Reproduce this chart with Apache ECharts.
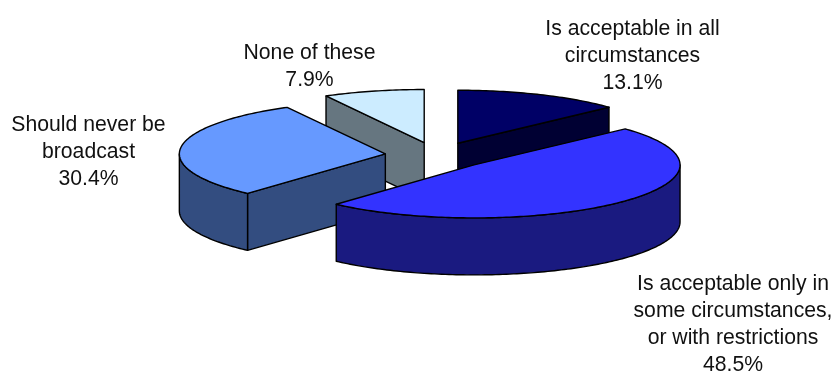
<!DOCTYPE html>
<html>
<head>
<meta charset="utf-8">
<style>html,body{margin:0;padding:0;background:#fff}#chart{width:832px;height:372px}</style>
<script src="https://cdn.jsdelivr.net/npm/echarts@6/dist/echarts.min.js"></script>
</head>
<body>
<div id="chart"></div>
<script>
// Opinion shares, clockwise from twelve o'clock.
const categories = [
  'Is acceptable in all\ncircumstances',
  'Is acceptable only in\nsome circumstances,\nor with restrictions',
  'Should never be\nbroadcast',
  'None of these'
];
const shares = [13.1, 48.5, 30.4, 7.9];

const topColors  = ['#000066', '#3333ff', '#6699ff', '#ccecff'];
const sideColors = ['#000033', '#1a1a80', '#334d80', '#667680'];

// Centre of each label block, in pixels.
const labelCentres = [[632.5, 56], [733, 324.5], [88.5, 152.5], [309.5, 66.5]];

// Tilted pie geometry.
const pie = { cx: 437, cy: 155.5, rx: 206, ry: 53, depth: 57, explode: 0.2525 };

const total = shares.reduce((a, b) => a + b, 0);
const rad = d => d * Math.PI / 180;

function ellipsePoint(c, deg, drop) {
  return [c[0] + pie.rx * Math.sin(rad(deg)), c[1] - pie.ry * Math.cos(rad(deg)) + (drop || 0)];
}
function arc(c, a, b, drop) {
  const pts = [];
  const n = Math.max(2, Math.ceil(Math.abs(b - a)));
  for (let i = 0; i <= n; i++) pts.push(ellipsePoint(c, a + (b - a) * i / n, drop));
  return pts;
}
function face(points, fill, z2) {
  return {
    type: 'polygon', z2,
    shape: { points },
    style: { fill, stroke: '#000', lineWidth: 1.4, lineJoin: 'round' }
  };
}

function renderSlice(params, api) {
  const i = params.dataIndex;
  const start = shares.slice(0, i).reduce((a, b) => a + b, 0) / total * 360;
  const end = start + api.value(0) / total * 360;
  const mid = (start + end) / 2;
  // Slices further down the screen paint over the ones behind them.
  const order = Math.round((-Math.cos(rad(mid)) + 1) * 100) * 10;
  const c = [
    pie.cx + pie.explode * pie.rx * Math.sin(rad(mid)),
    pie.cy - pie.explode * pie.ry * Math.cos(rad(mid))
  ];
  const d = pie.depth;
  const children = [];
  const wall = (deg) => face([c, ellipsePoint(c, deg), ellipsePoint(c, deg, d), [c[0], c[1] + d]], sideColors[i], order);

  // Cut faces that turn towards the viewer.
  if (Math.sin(rad(start)) < -1e-6) children.push(wall(start));
  if (Math.sin(rad(end)) > 1e-6) children.push(wall(end));

  // Rounded rim on the near half of the ellipse.
  const a = Math.max(start, 90), b = Math.min(end, 270);
  if (b > a) {
    children.push(face(arc(c, a, b, 0).concat(arc(c, b, a, d)), sideColors[i], order + 1));
  }
  // Top surface.
  children.push(face([c].concat(arc(c, start, end, 0)), topColors[i], order + 2));

  // Label.
  children.push({
    type: 'text', z2: 5000,
    style: {
      x: labelCentres[i][0], y: labelCentres[i][1],
      text: categories[i] + '\n' + api.value(0).toFixed(1) + '%',
      fill: '#111', align: 'center', verticalAlign: 'middle',
      fontFamily: '"Liberation Sans", Arial, sans-serif', fontSize: 21.2, lineHeight: 27.1
    }
  });
  return { type: 'group', children };
}

const chart = echarts.init(document.getElementById('chart'), null, { renderer: 'canvas' });
chart.setOption({
  animation: false,
  backgroundColor: '#fff',
  series: [{
    type: 'custom',
    coordinateSystem: 'none',
    silent: true,
    renderItem: renderSlice,
    data: shares.map(v => [v])
  }]
});
</script>
</body>
</html>
